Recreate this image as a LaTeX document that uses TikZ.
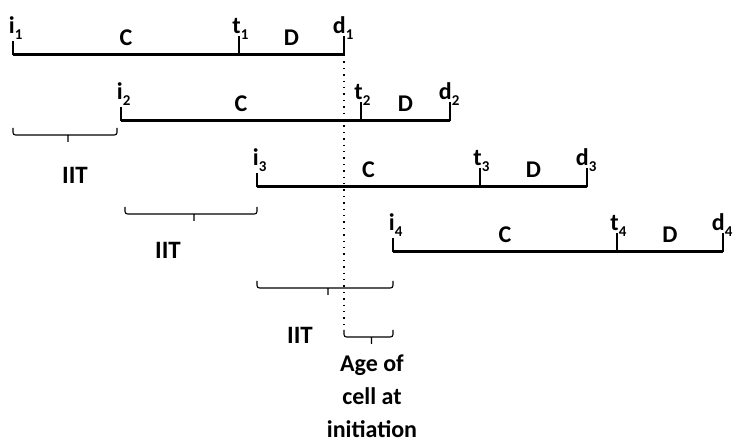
\documentclass[tikz,border=0pt]{standalone}
\usepackage{fontspec}
\setmainfont{Carlito}
\usepackage{tikz}
\usetikzlibrary{positioning,calc}
\newcommand{\evlabel}[2]{#1\rlap{\raisebox{-6pt}{\fontsize{15}{15}\selectfont #2}}}

\begin{document}
\begin{tikzpicture}[x=1pt,y=-1pt,
  cycleline/.style={line width=3pt},
  tickline/.style={line width=1.4pt},
  evtext/.style={font=\fontsize{24}{24}\selectfont\bfseries,inner sep=0pt,anchor=base east},
  phasetext/.style={font=\fontsize{24}{24}\selectfont\bfseries,inner sep=0pt,anchor=base},
  gapbrace/.style={line width=1.1pt,rounded corners=2.5pt,
    to path={-- ++(0,7) -- ($(\tikztotarget)+(0,7)$) -- (\tikztotarget)
      ($(\tikztostart)!0.5!(\tikztotarget)+(3,7)$) -- ++(0,7)}},
  gaptext/.style={font=\fontsize{25}{25}\selectfont\bfseries,inner sep=0pt}]
\useasboundingbox (0,0) rectangle (734,443);
% cell cycles: initiation, termination, division
\foreach \n/\xi/\xt/\xd/\y in {1/13/239/344/55,2/121/361/450/121,3/257/480/587/187,4/393/617/723/252}{
  \coordinate (i\n) at (\xi,\y);
  \coordinate (t\n) at (\xt,\y);
  \coordinate (d\n) at (\xd,\y);
  \draw[cycleline] (i\n) -- (d\n);
  \draw[tickline] (i\n) -- ++(0,-14);
  \draw[tickline] (t\n) -- ++(0,-19);
  \draw[tickline] (d\n) -- ++(0,-19);
  \node[evtext] (li\n) at ([shift={(2,-21)}]i\n) {\evlabel{i}{\n}};
  \node[evtext] (lt\n) at ([shift={(2,-21)}]t\n) {\evlabel{t}{\n}};
  \node[evtext] (ld\n) at ([shift={(2,-21)}]d\n) {\evlabel{d}{\n}};
  \node[phasetext] (c\n) at ($(i\n)!0.5!(t\n)+(0,-9)$) {C};
  \node[phasetext] (dd\n) at ($(t\n)!0.5!(d\n)+(0,-9)$) {D};
}
% inter-initiation times
\coordinate (b1) at (13,128);
\coordinate (b2) at (125,207);
\coordinate (b3) at (257,281);
\draw[gapbrace] (b1) to (117,128);
\draw[gapbrace] (b2) to (i3 |- b2);
\draw[gapbrace] (b3) to (i4 |- b3);
\node[gaptext] (iit1) at (75,175) {IIT};
\node[gaptext] (iit2) at (168,250) {IIT};
\node[gaptext] (iit3) at (300,335) {IIT};
% age at initiation
\coordinate (a0) at (d1 |- 0,330);
\draw[line width=1.3pt,dash pattern=on 1.4pt off 5pt] (d1) -- (a0);
\draw[gapbrace] (a0) to (i4 |- a0);
\node[font=\fontsize{24}{33}\selectfont\bfseries,align=center,inner sep=0pt,anchor=north] (age) at (372,355) {Age of\\cell at\\initiation};
\end{tikzpicture}
\end{document}
